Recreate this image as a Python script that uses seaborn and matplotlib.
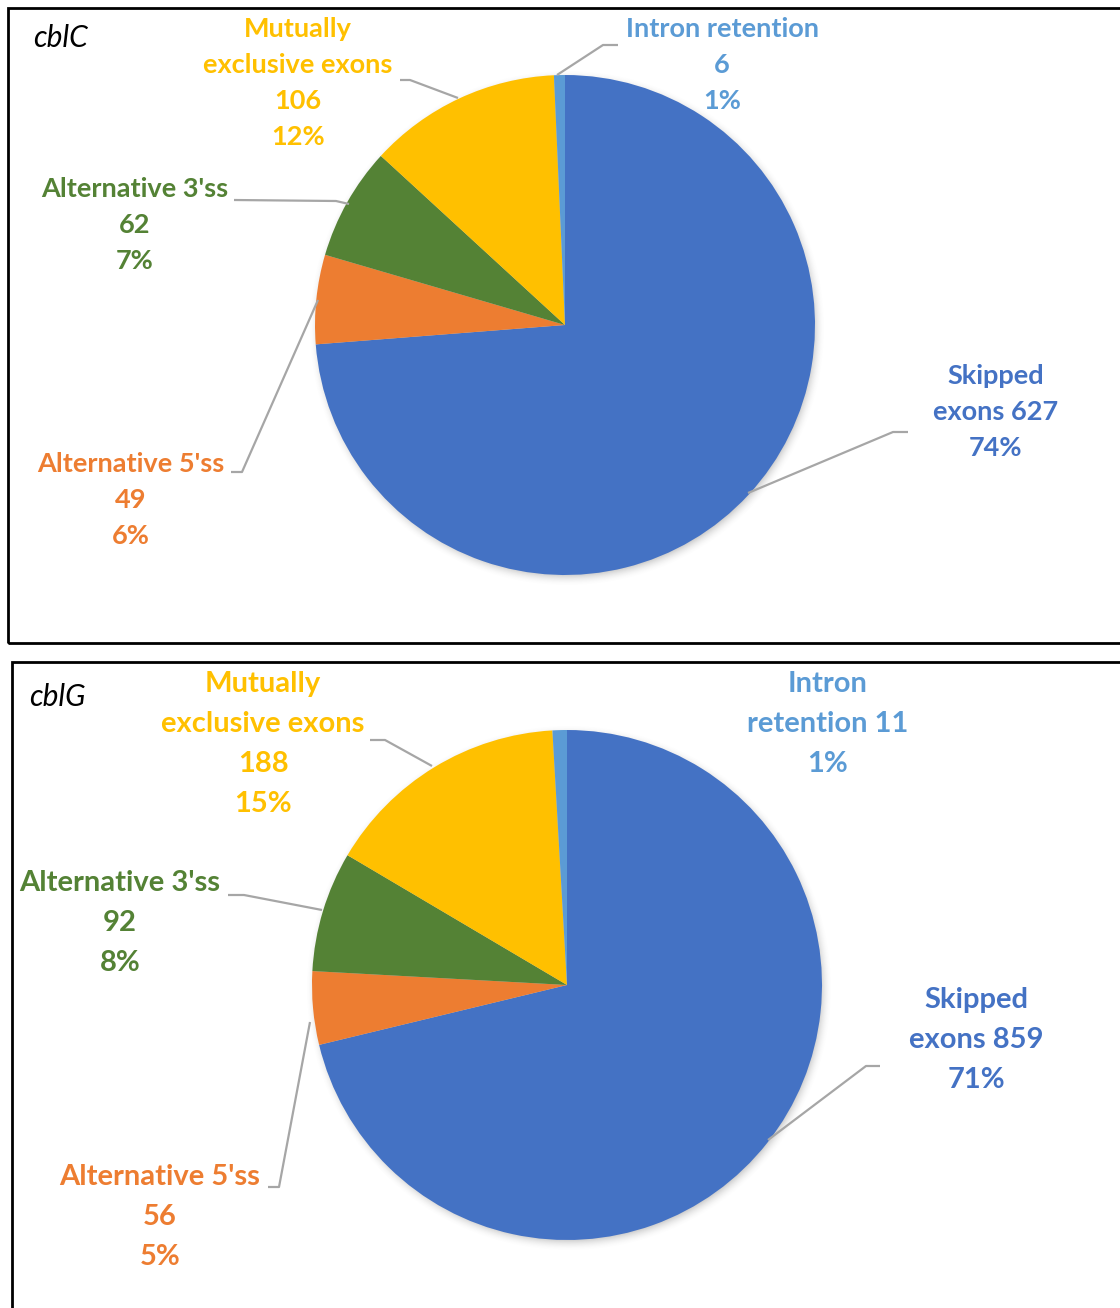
import numpy as np
import matplotlib
matplotlib.use("Agg")
import matplotlib.pyplot as plt
import seaborn as sns
from matplotlib.patches import Rectangle

# Splicing event categories (clockwise from 12 o'clock)
categories = ["Skipped exons", "Alternative 5'ss", "Alternative 3'ss",
              "Mutually exclusive exons", "Intron retention"]
cblc_counts = [627, 49, 62, 106, 6]
cblg_counts = [859, 56, 92, 188, 11]
cblc_pct = ["74%", "6%", "7%", "12%", "1%"]
cblg_pct = ["71%", "5%", "8%", "15%", "1%"]
panel_titles = ["cblC", "cblG"]

palette = ["#4472C4", "#ED7D31", "#548235", "#FFC000", "#5B9BD5"]

sns.set_theme(style="white")
plt.rcParams["font.family"] = ["Lato", "DejaVu Sans"]

W, H = 1120, 1308
fig = plt.figure(figsize=(W / 100, H / 100), dpi=100)
ax = fig.add_axes([0, 0, 1, 1])


def Y(y):
    return H - y


def shadow(cx, cy, r):
    # soft drop shadow beneath the pie
    pad = 30
    xs = np.arange(cx - r - pad, cx + r + pad)
    ys = np.arange(cy - r - pad, cy + r + pad)
    gx, gy = np.meshgrid(xs, ys)
    d = np.hypot(gx - (cx + 2), gy - (cy + 3))
    a = np.clip((r + 9 - d) / 12.0, 0, 1) ** 2 * 0.35
    img = np.zeros(d.shape + (4,))
    img[..., :3] = 0.45
    img[..., 3] = a
    ax.imshow(img, extent=(xs[0], xs[-1], Y(ys[-1]), Y(ys[0])),
              origin="upper", zorder=1, interpolation="bilinear")


def leader(pts):
    ax.plot([p[0] for p in pts], [Y(p[1]) for p in pts],
            color="#A6A6A6", lw=1.6, zorder=3, solid_capstyle="butt")


def label(x, y, lines, color, size, spacing):
    for i, t in enumerate(lines):
        ax.text(x, Y(y + i * spacing), t, color=color, fontsize=size,
                fontweight="bold", ha="center", va="center", zorder=4)


def panel(counts, pct, center, radius, title, title_xy, layout, leaders,
          size, spacing, title_size):
    cx, cy = center
    shadow(cx, cy, radius)
    ax.pie(counts, colors=palette, startangle=90, counterclock=False,
           center=(cx, Y(cy)), radius=radius, frame=True,
           wedgeprops=dict(linewidth=0, zorder=2))
    for (x, y, lines), c in zip(layout, palette):
        label(x, y, lines, c, size, spacing)
    for pts in leaders:
        leader(pts)
    ax.text(title_xy[0], Y(title_xy[1]), title, fontsize=title_size,
            style="italic", color="black", ha="left", va="center", zorder=4)


# top panel: cblC
layout_c = [
    (996, 376, ["Skipped", f"exons {cblc_counts[0]}", cblc_pct[0]]),
    (131, 464, ["Alternative 5'ss", str(cblc_counts[1]), cblc_pct[1]]),
    (135, 189, ["Alternative 3'ss", str(cblc_counts[2]), cblc_pct[2]]),
    (298, 29, ["Mutually", "exclusive exons", str(cblc_counts[3]), cblc_pct[3]]),
    (722, 29, ["Intron retention", str(cblc_counts[4]), cblc_pct[4]]),
]
leaders_c = [
    [(908, 432), (893, 432), (748, 493)],
    [(231, 472), (242, 472), (318, 300)],
    [(234, 200), (336, 201), (349, 204)],
    [(400, 80), (410, 80), (458, 98)],
    [(618, 45), (603, 45), (557, 75)],
]
panel(cblc_counts, cblc_pct, (565, 325), 250, panel_titles[0], (33, 38),
      layout_c, leaders_c, 19.5, 36, 21.5)

# bottom panel: cblG
layout_g = [
    (976, 1000, ["Skipped", f"exons {cblg_counts[0]}", cblg_pct[0]]),
    (160, 1177, ["Alternative 5'ss", str(cblg_counts[1]), cblg_pct[1]]),
    (120, 883, ["Alternative 3'ss", str(cblg_counts[2]), cblg_pct[2]]),
    (263, 684, ["Mutually", "exclusive exons", str(cblg_counts[3]), cblg_pct[3]]),
    (828, 684, ["Intron", f"retention {cblg_counts[4]}", cblg_pct[4]]),
]
leaders_g = [
    [(880, 1066), (866, 1066), (768, 1140)],
    [(268, 1187), (279, 1187), (310, 1022)],
    [(228, 895), (244, 895), (322, 910)],
    [(370, 740), (385, 740), (432, 766)],
]
panel(cblg_counts, cblg_pct, (567, 985), 255, panel_titles[1], (29, 697),
      layout_g, leaders_g, 21, 40, 21.5)

# panel frames
ax.add_patch(Rectangle((8, Y(643)), 1130, 635, fill=False, ec="black",
                       lw=2, zorder=5))
ax.add_patch(Rectangle((12, Y(1320)), 1130, 658, fill=False, ec="black",
                       lw=2, zorder=5))

ax.set_xlim(0, W)
ax.set_ylim(0, H)
ax.set_aspect("auto")
ax.axis("off")

fig.savefig("out.png", dpi=100, facecolor="white")
